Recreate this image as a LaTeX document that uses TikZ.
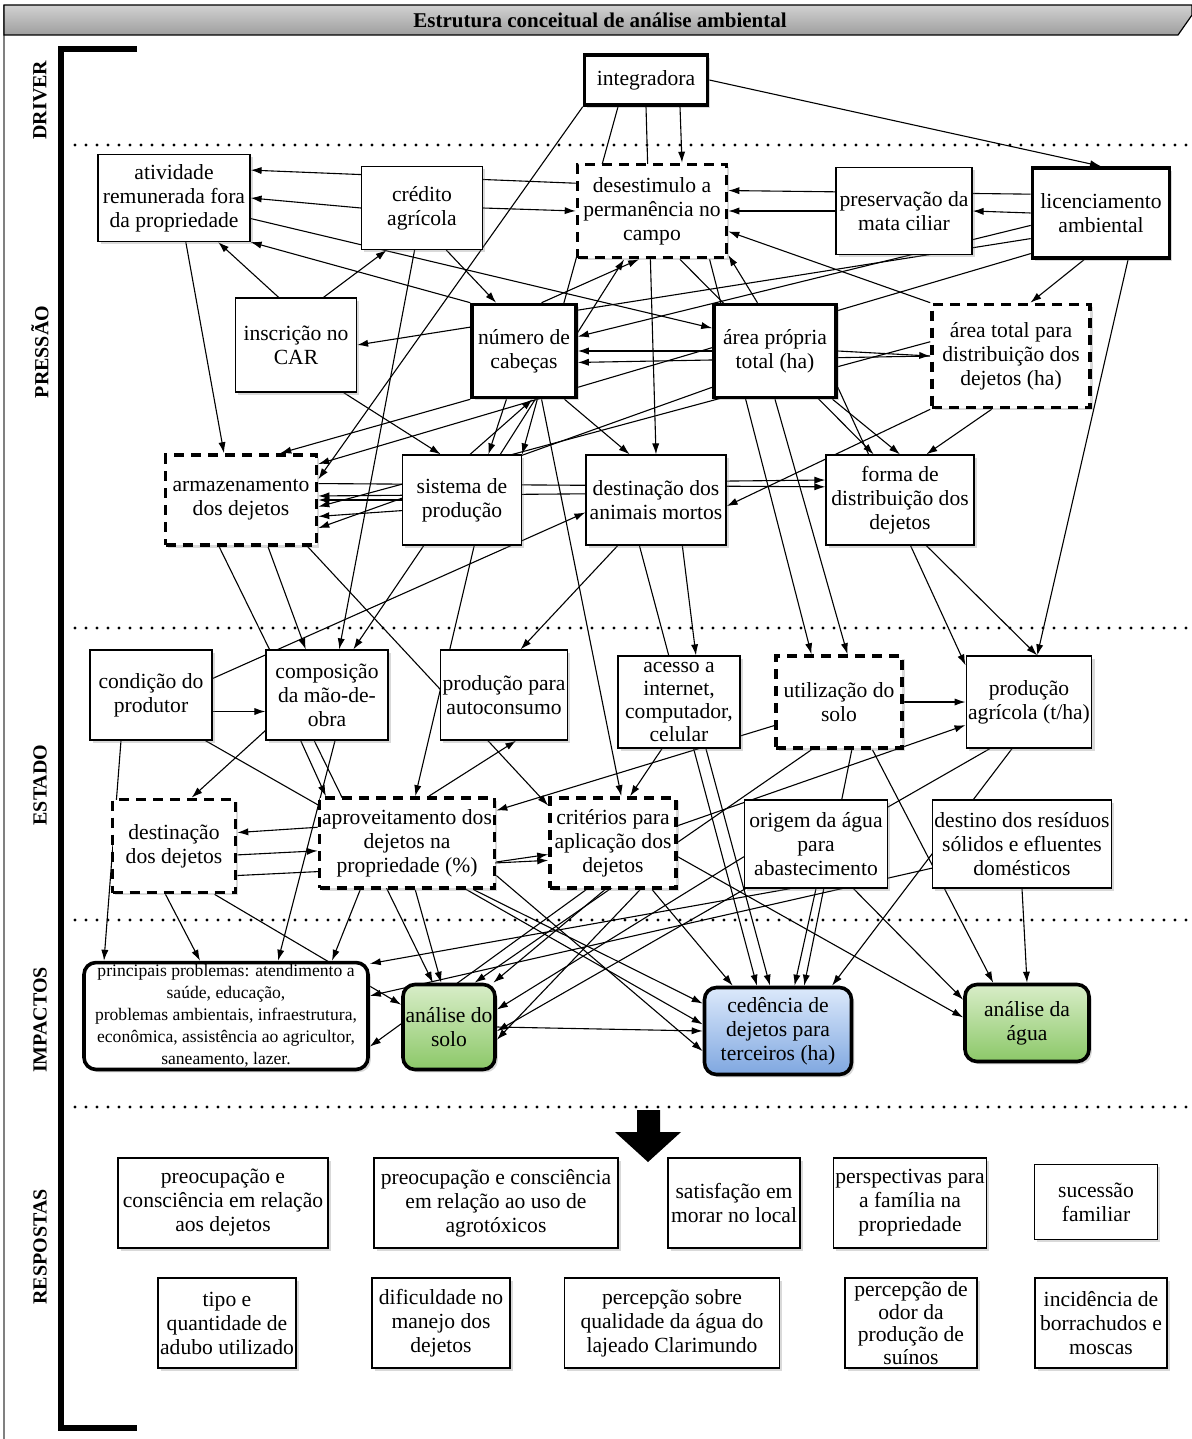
\documentclass[tikz,border=0pt]{standalone}
\usepackage{fontspec}
\setmainfont{Liberation Serif}
\usepackage{tikz}
\usetikzlibrary{shapes,arrows,arrows.meta,shadows}
\definecolor{soiltop}{HTML}{D8EDC8}
\definecolor{soilbot}{HTML}{8CC868}
\definecolor{celltop}{HTML}{DCE9FB}
\definecolor{cellbot}{HTML}{7FA7E0}
\tikzstyle{block} = [rectangle, draw, fill=white, align=center, inner sep=1pt, line width=0.6pt, font=\fontsize{10.8}{12}\selectfont, drop shadow={shadow xshift=1.4pt, shadow yshift=-1.4pt, opacity=0.3}]
\tikzstyle{keyblock} = [block, line width=1.8pt]
\tikzstyle{dashblock} = [block, line width=1.8pt, dash pattern=on 5pt off 3.5pt]
\tikzstyle{impact} = [block, rounded corners=6pt, line width=1.8pt]
\tikzstyle{line} = [draw, line width=0.55pt, -{Latex[length=5.5pt,width=3.6pt]}]
\tikzstyle{level} = [draw, line width=1.6pt, line cap=round, dash pattern=on 0pt off 5.5pt]
\tikzstyle{stage} = [rotate=90, font=\bfseries\fontsize{10}{12}\selectfont]
\pgfdeclarelayer{edges}
\pgfsetlayers{edges,main}

\begin{document}
\begin{tikzpicture}[x=0.5pt, y=-0.5pt]
\useasboundingbox (0,0) rectangle (1192,1439);
% frame, title and bracket
\draw [black!50, line width=0.6pt] (4,5) -- (4,1439);
\draw [line width=0.6pt, top color=black!18, bottom color=black!38] (4,5) -- (1192,5) -- (1192,15) -- (1178,35) -- (4,35) -- cycle;
\node [font=\bfseries\fontsize{10.5}{12}\selectfont] (title) at (600,20) {Estrutura conceitual de análise ambiental};
\draw [line width=2.8pt] (137,49) -- (61,49) -- (61,1428) -- (137,1428);
\node [stage] (driver) at (40,100) {DRIVER};
\node [stage] (pressao) at (40,352) {PRESSÃO};
\node [stage] (estado) at (40,785) {ESTADO};
\node [stage] (impactos) at (40,1020) {IMPACTOS};
\node [stage] (respostas) at (40,1247) {RESPOSTAS};
\path [level] (75,145) -- (1192,145);
\path [level] (75,628) -- (1192,628);
\path [level] (75,920) -- (1192,920);
\path [level] (75,1107) -- (1192,1107);

% driver and pressure
\node [keyblock, minimum width=61.5pt, minimum height=25pt] (integ) at (646,80) {integradora};
\node [block, minimum width=76pt, minimum height=43.5pt] (ativ) at (174,198) {atividade\\remunerada fora\\da propriedade};
\node [block, minimum width=60.5pt, minimum height=41.5pt] (credito) at (422,208) {crédito\\agrícola};
\node [dashblock, minimum width=74.5pt, minimum height=46.5pt] (desest) at (652,211) {desestimulo a\\permanência no\\campo};
\node [block, minimum width=68pt, minimum height=43.5pt] (preserv) at (904,211) {preservação da\\mata ciliar};
\node [keyblock, minimum width=68.5pt, minimum height=45pt] (licenc) at (1101,213) {licenciamento\\ambiental};
\node [block, minimum width=60.5pt, minimum height=47pt] (car) at (296,345) {inscrição no\\CAR};
\node [keyblock, minimum width=52pt, minimum height=46.5pt] (cabecas) at (524,351) {número de\\cabeças};
\node [keyblock, minimum width=61pt, minimum height=46.5pt] (areapropria) at (775,351) {área própria\\total (ha)};
\node [dashblock, minimum width=79pt, minimum height=51.5pt] (areatotal) at (1011,356) {área total para\\distribuição dos\\dejetos (ha)};
\node [dashblock, minimum width=75.5pt, minimum height=45pt] (armaz) at (241,500) {armazenamento\\dos dejetos};
\node [block, minimum width=59.5pt, minimum height=45pt] (sistema) at (462,500) {sistema de\\produção};
\node [block, minimum width=70pt, minimum height=45pt] (mortos) at (656,500) {destinação dos\\animais mortos};
\node [block, minimum width=74pt, minimum height=45pt] (forma) at (900,500) {forma de\\distribuição dos\\dejetos};

% state
\node [block, minimum width=61pt, minimum height=45pt] (condicao) at (151,695) {condição do\\produtor};
\node [block, minimum width=61pt, minimum height=45pt] (maoobra) at (327,695) {composição\\da mão-de-\\obra};
\node [block, minimum width=61pt, minimum height=45pt] (autocons) at (504,695) {produção para\\autoconsumo};
\node [block, minimum width=61pt, minimum height=46pt, font=\fontsize{10.8}{11.4}\selectfont] (acesso) at (679,702) {acesso a\\internet,\\computador,\\celular};
\node [dashblock, minimum width=63pt, minimum height=46pt] (usosolo) at (839,702) {utilização do\\solo};
\node [block, minimum width=61pt, minimum height=46pt] (prodagri) at (1029,702) {produção\\agrícola (t/ha)};
\node [dashblock, minimum width=61.5pt, minimum height=46.5pt] (destdej) at (174,846) {destinação\\dos dejetos};
\node [dashblock, minimum width=87.5pt, minimum height=45pt] (aprov) at (407,843) {aproveitamento dos\\dejetos na\\propriedade (\%)};
\node [dashblock, minimum width=63pt, minimum height=45pt] (criterios) at (613,843) {critérios para\\aplicação dos\\dejetos};
\node [block, minimum width=71.5pt, minimum height=44pt] (origem) at (816,844) {origem da água\\para\\abastecimento};
\node [block, minimum width=87.5pt, minimum height=44pt] (residuos) at (1022,844) {destino dos resíduos\\sólidos e efluentes\\domésticos};

% impacts
\node [impact, minimum width=142pt, minimum height=51pt, font=\fontsize{8.8}{11}\selectfont] (problemas) at (226,1016) {principais problemas: atendimento a\\saúde, educação,\\problemas ambientais, infraestrutura,\\econômica, assistência ao agricultor,\\saneamento, lazer.};
\node [impact, minimum width=46pt, minimum height=42.5pt, top color=soiltop, bottom color=soilbot] (analsolo) at (449,1027) {análise do\\solo};
\node [impact, minimum width=73.5pt, minimum height=43.5pt, top color=celltop, bottom color=cellbot] (cedencia) at (778,1031) {cedência de\\dejetos para\\terceiros (ha)};
\node [impact, minimum width=62pt, minimum height=38.5pt, top color=soiltop, bottom color=soilbot] (analagua) at (1027,1023) {análise da\\água};

% responses
\fill (637,1110) -- (660,1110) -- (660,1132) -- (681,1132) -- (648,1162) -- (615,1132) -- (637,1132) -- cycle;
\node [block, minimum width=105pt, minimum height=45pt] (resp1) at (223,1203) {preocupação e\\consciência em relação\\aos dejetos};
\node [block, minimum width=122pt, minimum height=45pt] (resp2) at (496,1203) {preocupação e consciência\\em relação ao uso de\\agrotóxicos};
\node [block, minimum width=66pt, minimum height=45pt] (resp3) at (734,1203) {satisfação em\\morar no local};
\node [block, minimum width=76pt, minimum height=45pt] (resp4) at (910,1203) {perspectivas para\\a família na\\propriedade};
\node [block, minimum width=61.5pt, minimum height=37.5pt] (resp5) at (1096,1202) {sucessão\\familiar};
\node [block, minimum width=69pt, minimum height=45pt] (resp6) at (227,1323) {tipo e\\quantidade de\\adubo utilizado};
\node [block, minimum width=69pt, minimum height=45pt] (resp7) at (441,1323) {dificuldade no\\manejo dos\\dejetos};
\node [block, minimum width=107.5pt, minimum height=45pt] (resp8) at (672,1323) {percepção sobre\\qualidade da água do\\lajeado Clarimundo};
\node [block, minimum width=66pt, minimum height=45pt, font=\fontsize{10.8}{11.2}\selectfont] (resp9) at (911,1323) {percepção de\\odor da\\produção de\\suínos};
\node [block, minimum width=66pt, minimum height=45pt] (resp10) at (1101,1323) {incidência de\\borrachudos e\\moscas};

\begin{pgfonlayer}{edges}
% driver
\path [line] ([xshift=17pt]integ.south) -- ([xshift=15pt]desest.north);
\path [line] (integ.south) -- (mortos.north);
\path [line] (integ.east) -- (licenc.north);
\path [line] (integ.south west) -- (armaz.15);
\path [line] ([xshift=-14pt]integ.south) -- (sistema.north east);
% pressure
\path [line] (credito.west) -- (ativ.east);
\path [line] (desest.160) -- (ativ.20);
\path [line] (credito.east) -- (desest.west);
\path [line] (cabecas.north west) -- (ativ.south east);
\path [line] (ativ.-15) -- (areapropria.160);
\path [line] (preserv.west) -- (desest.east);
\path [line] (licenc.west) -- (preserv.east);
\path [line] (licenc.165) -- (desest.15);
\path [line] (areatotal.north west) -- (desest.-15);
\path [line] (areapropria.110) -- (desest.-30);
\path [line] (car.60) -- (credito.-130);
\path [line] (car.110) -- (ativ.-45);
\path [line] (licenc.200) -- (car.east);
\path [line] (credito.-60) -- (cabecas.120);
\path [line] (credito.-100) -- (maoobra.75);
\path [line] (car.-45) -- (sistema.115);
\path [line] (cabecas.-110) -- (sistema.60);
\path [line] (sistema.80) -- (cabecas.-80);
\path [line] (cabecas.-50) -- (mortos.120);
\path [line] (areapropria.west) -- (cabecas.east);
\path [line] (areatotal.west) -- (cabecas.-12);
\path [line] (licenc.190) -- (cabecas.15);
\path [line] (sistema.50) -- (desest.-120);
\path [line] (cabecas.70) -- (desest.-105);
\path [line] (desest.-60) -- (forma.120);
\path [line] (desest.-40) -- (usosolo.120);
\path [line] (areapropria.east) -- (areatotal.west);
\path [line] (areapropria.-40) -- (forma.north);
\path [line] (areatotal.-110) -- (forma.60);
\path [line] (licenc.-110) -- (areatotal.70);
\path [line] (licenc.-60) -- (prodagri.80);
\path [line] (licenc.210) -- (armaz.25);
\path [line] (areatotal.170) -- (armaz.-5);
\path [line] (areatotal.south west) -- (mortos.-5);
\path [line] (mortos.15) -- (forma.165);
\path [line] (armaz.12) -- (forma.170);
\path [line] (sistema.west) -- (armaz.east);
\path [line] (sistema.190) -- (armaz.-12);
\path [line] (mortos.175) -- (armaz.3);
\path [line] (areapropria.-150) -- (armaz.-20);
\path [line] (cabecas.south west) -- (armaz.50);
\path [line] (ativ.-75) -- (armaz.110);
% state
\path [line] (armaz.-60) -- (maoobra.115);
\path [line] (armaz.-115) -- (analsolo.110);
\path [line] (armaz.-35) -- (criterios.150);
\path [line] (sistema.-130) -- (maoobra.60);
\path [line] (sistema.-75) -- (aprov.80);
\path [line] (mortos.-130) -- (autocons.70);
\path [line] (mortos.-60) -- (acesso.70);
\path [line] (mortos.-110) -- (cedencia.115);
\path [line] (cabecas.-70) -- (criterios.80);
\path [line] (areapropria.-90) -- (usosolo.80);
\path [line] (forma.-60) -- (prodagri.80);
\path [line] (areapropria.-30) -- (prodagri.150);
\path [line] (usosolo.east) -- (prodagri.west);
\path [line] (criterios.15) -- (prodagri.-160);
\path [line] (condicao.-15) -- (maoobra.-165);
\path [line] (condicao.15) -- (mortos.-170);
\path [line] ([xshift=-15pt]condicao.south) -- ([xshift=-61pt]problemas.north);
\path [line] (condicao.-40) -- (cedencia.175);
\path [line] (maoobra.-150) -- (destdej.70);
\path [line] (maoobra.-120) -- (aprov.150);
\path [line] (maoobra.-80) -- ([xshift=26pt]problemas.north);
\path [line] (aprov.170) -- (destdej.12);
\path [line] (destdej.-8) -- (aprov.-175);
\path [line] (destdej.-25) -- (criterios.-165);
\path [line] (destdej.-100) -- ([xshift=-13pt]problemas.north);
\path [line] (destdej.-50) -- (analsolo.155);
\path [line] (aprov.-135) -- ([xshift=53pt]problemas.north);
\path [line] (aprov.-80) -- (analsolo.100);
\path [line] (aprov.-35) -- (cedencia.160);
\path [line] (aprov.-20) -- (cedencia.-165);
\path [line] (aprov.-12) -- (criterios.-170);
\path [line] (aprov.65) -- (autocons.-75);
\path [line] (usosolo.-160) -- (aprov.20);
\path [line] (usosolo.-120) -- (analsolo.60);
\path [line] (usosolo.-75) -- (cedencia.60);
\path [line] (usosolo.-55) -- (analagua.130);
\path [line] (acesso.-110) -- (criterios.70);
\path [line] (acesso.-60) -- (cedencia.100);
% impacts
\path [line] (criterios.-120) -- (problemas.-12);
\path [line] (criterios.-100) -- (analsolo.45);
\path [line] (criterios.-60) -- (analsolo.-15);
\path [line] (criterios.-12) -- (analagua.175);
\path [line] (criterios.-50) -- (cedencia.135);
\path [line] (origem.south) -- (cedencia.70);
\path [line] (origem.-50) -- (analagua.160);
\path [line] (origem.-120) -- (problemas.20);
\path [line] (origem.190) -- (analsolo.20);
\path [line] (residuos.south) -- (analagua.north);
\path [line] (residuos.195) -- (problemas.8);
\path [line] (prodagri.-130) -- (analsolo.-5);
\path [line] (prodagri.-110) -- (cedencia.40);
\path [line] (analsolo.east) -- (cedencia.west);
\end{pgfonlayer}
\end{tikzpicture}
\end{document}
